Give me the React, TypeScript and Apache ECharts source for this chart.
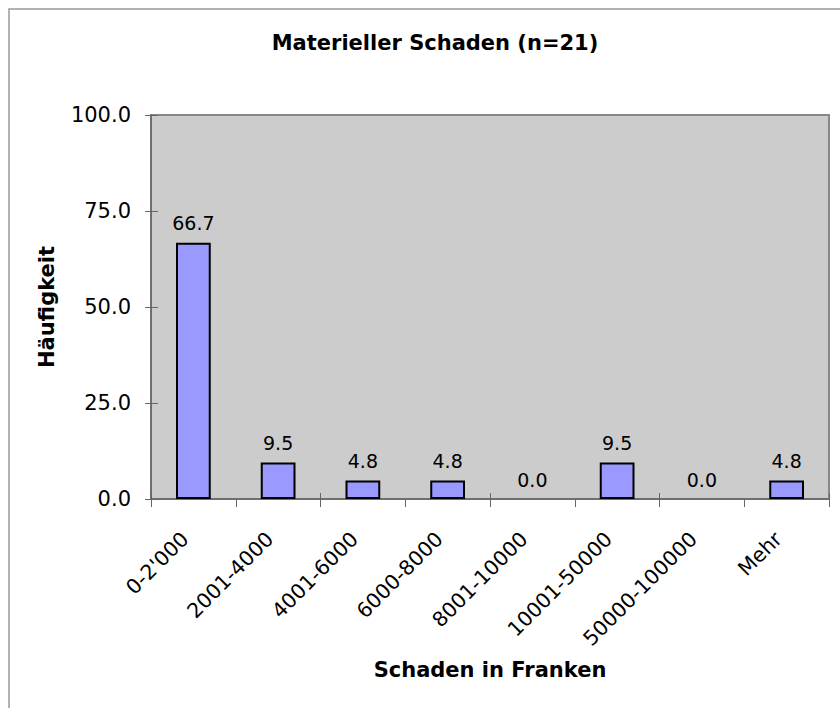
import React, { useEffect, useRef } from "react";
import * as echarts from "echarts";

const categories = ["0-2'000", "2001-4000", "4001-6000", "6000-8000", "8001-10000", "10001-50000", "50000-100000", "Mehr"];
const values = [66.7, 9.5, 4.8, 4.8, 0.0, 9.5, 0.0, 4.8];
const titleText = "Materieller Schaden (n=21)";
const xName = "Schaden in Franken";
const yName = "Häufigkeit";

export default function App() {
  const ref = useRef<HTMLDivElement>(null);
  useEffect(() => {
    if (!ref.current) return;
    const chart = echarts.init(ref.current, null, { renderer: "svg" });
    const font = "DejaVu Sans";
    const axisCol = "#666";
    const barData = values.map((v) =>
      v === 0 ? { value: v, itemStyle: { borderWidth: 0 } } : { value: v }
    );
    chart.setOption({
      animation: false,
      backgroundColor: "#fff",
      textStyle: { fontFamily: font },
      title: {
        text: titleText,
        left: 430,
        top: 27,
        textAlign: "center",
        textStyle: { fontFamily: font, fontWeight: "bold", fontSize: 21, color: "#000" },
      },
      graphic: [
        {
          type: "rect",
          shape: { x: 9, y: 9, width: 900, height: 800 },
          style: { fill: "none", stroke: "#999", lineWidth: 1.5 },
          silent: true,
        },
      ],
      grid: {
        left: 151,
        top: 115,
        right: 11,
        bottom: 209,
        show: true,
        backgroundColor: "#cccccc",
        borderColor: "#888",
        borderWidth: 2,
      },
      xAxis: [
        {
          type: "category",
          data: categories,
          name: xName,
          nameLocation: "middle",
          nameGap: 160,
          nameTextStyle: { fontFamily: font, fontWeight: "bold", fontSize: 21, color: "#000" },
          axisLine: { lineStyle: { color: axisCol, width: 1.5 } },
          axisTick: { show: true, inside: false, length: 8, alignWithLabel: false, lineStyle: { color: axisCol } },
          axisLabel: { rotate: 45, fontSize: 20.5, color: "#000", margin: 28, padding: [0, 12, 16, 0], interval: 0 },
          splitLine: { show: false },
        },
        {
          type: "category",
          data: categories,
          position: "bottom",
          axisLine: { show: false },
          axisTick: { show: true, inside: true, length: 6, lineStyle: { color: axisCol } },
          axisLabel: { show: false },
          splitLine: { show: false },
        },
      ],
      yAxis: [
        {
          type: "value",
          min: 0,
          max: 100,
          interval: 25,
          name: yName,
          nameLocation: "middle",
          nameGap: 94,
          nameTextStyle: { fontFamily: font, fontWeight: "bold", fontSize: 21, color: "#000" },
          axisLine: { show: true, lineStyle: { color: axisCol, width: 1.5 } },
          axisTick: { show: true, inside: false, length: 6, lineStyle: { color: axisCol } },
          axisLabel: { fontSize: 21, color: "#000", margin: 20, formatter: (v: number) => v.toFixed(1) },
          splitLine: { show: false },
        },
        {
          type: "value",
          min: 0,
          max: 100,
          interval: 25,
          position: "left",
          axisLine: { show: false },
          axisTick: { show: true, inside: true, length: 7, lineStyle: { color: axisCol } },
          axisLabel: { show: false },
          splitLine: { show: false },
        },
      ],
      series: [
        {
          type: "bar",
          data: barData,
          xAxisIndex: 0,
          yAxisIndex: 0,
          barWidth: "41%",
          itemStyle: { color: "#9999ff", borderColor: "#000", borderWidth: 2 },
          label: {
            show: true,
            position: "top",
            distance: 10,
            fontSize: 19,
            color: "#000",
            fontFamily: font,
            formatter: (p: any) => Number(p.value).toFixed(1),
          },
        },
      ],
    });
    return () => chart.dispose();
  }, []);
  return <div ref={ref} style={{ position: "absolute", left: 0, top: 0, width: 840, height: 708 }} />;
}
